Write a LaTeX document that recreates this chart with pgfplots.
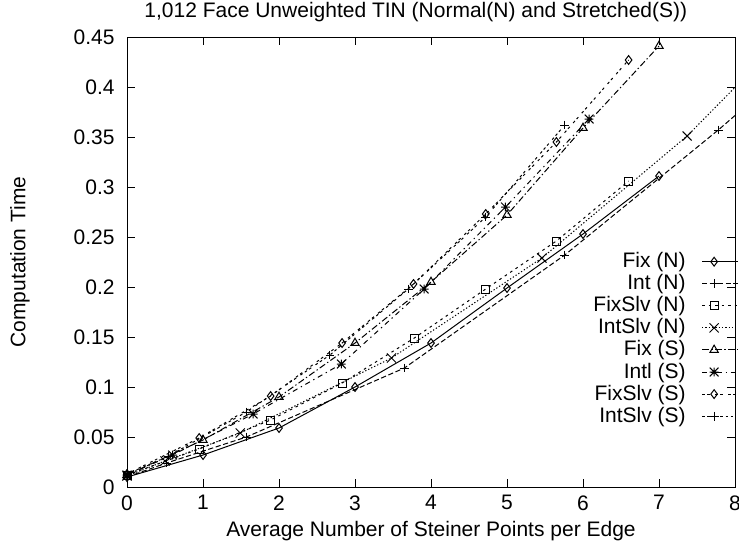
\documentclass[border=0pt]{standalone}
\usepackage{fontspec}
\setmainfont{Liberation Sans}
\usepackage{pgfplots}
\pgfplotsset{compat=1.18}
\pgfdeclareplotmark{gstar}{%
 \pgfpathmoveto{\pgfqpoint{-\pgfplotmarksize}{0pt}}\pgfpathlineto{\pgfqpoint{\pgfplotmarksize}{0pt}}%
 \pgfpathmoveto{\pgfqpoint{0pt}{-\pgfplotmarksize}}\pgfpathlineto{\pgfqpoint{0pt}{\pgfplotmarksize}}%
 \pgfpathmoveto{\pgfqpoint{-\pgfplotmarksize}{-\pgfplotmarksize}}\pgfpathlineto{\pgfqpoint{\pgfplotmarksize}{\pgfplotmarksize}}%
 \pgfpathmoveto{\pgfqpoint{-\pgfplotmarksize}{\pgfplotmarksize}}\pgfpathlineto{\pgfqpoint{\pgfplotmarksize}{-\pgfplotmarksize}}%
 \pgfusepathqstroke}
\begin{document}
\fontsize{10.5}{12.6}\selectfont
\begin{tikzpicture}
\begin{axis}[
 scale only axis, width=304pt, height=225pt,
 xmin=0, xmax=8, ymin=0, ymax=0.45,
 xtick={0,1,2,3,4,5,6,7,8},
 ytick={0,0.05,0.1,0.15,0.2,0.25,0.3,0.35,0.4,0.45},
 tick align=inside, tick pos=both, major tick length=4pt,
 axis line style={line width=0.5pt},
 every tick/.style={black, line width=0.5pt},
 /pgf/number format/assume math mode=true,
 scaled y ticks=false,
 yticklabel style={/pgf/number format/fixed, /pgf/number format/precision=2, xshift=-2.5pt},
 xticklabel style={yshift=-3pt, inner sep=1pt},
 tick label style={font=\fontsize{10.5}{12.6}\selectfont},
 title={1,012 Face Unweighted TIN (Normal(N) and Stretched(S))},
 every axis title/.style={at={(axis description cs:0.475,1.0556)}, anchor=center, inner sep=0pt},
 xlabel={Average Number of Steiner Points per Edge},
 every axis x label/.style={at={(axis description cs:0.5,-0.097)}, anchor=center, inner sep=0pt},
 ylabel={Computation Time},
 every axis y label/.style={at={(axis description cs:-0.176,0.5)}, rotate=90, anchor=center, inner sep=0pt},
 every axis plot/.append style={line width=0.5pt, black, mark size=2.2pt, mark options={solid}},
 legend plot pos=right, legend cell align=right,
 legend style={draw=none, fill=none, at={(axis description cs:1.0066,0.522)}, anchor=north east, inner sep=0pt, row sep=1.85pt, column sep=8pt, nodes={inner sep=0pt}, font=\fontsize{10.5}{12.6}\selectfont},
 legend image code/.code={\draw[mark repeat=2,mark phase=2,#1] plot coordinates {(0pt,0pt) (6pt,0pt) (18pt,0pt)};},
]
% Fix (N)
\addplot[solid, mark=diamond] coordinates {(0,0.010) (1,0.032) (2,0.059) (3,0.100) (4,0.144) (5,0.199) (6,0.253) (7,0.311)};
\addlegendentry{Fix (N)}
% Int (N)
\addplot[dash pattern=on 2.6pt off 1.3pt, mark=+] coordinates {(0,0.010) (0.52,0.024) (1.57,0.050) (3.65,0.119) (5.76,0.232) (7.78,0.357) (9.8,0.49)};
\addlegendentry{Int (N)}
% FixSlv (N)
\addplot[dash pattern=on 1.3pt off 1.95pt, mark=square, mark size=2pt] coordinates {(0,0.012) (0.95,0.038) (1.89,0.067) (2.83,0.104) (3.78,0.149) (4.72,0.198) (5.65,0.246) (6.6,0.306)};
\addlegendentry{FixSlv (N)}
% IntSlv (N)
\addplot[dash pattern=on 0.65pt off 1pt, mark=x, mark size=3.2pt] coordinates {(0,0.011) (0.5,0.026) (1.49,0.054) (3.48,0.129) (5.46,0.229) (7.37,0.351) (9.3,0.50)};
\addlegendentry{IntSlv (N)}
% Fix (S)
\addplot[dash pattern=on 3.25pt off 1.3pt on 0.65pt off 1.3pt, mark=triangle, mark size=2.4pt] coordinates {(0,0.012) (1,0.047) (2,0.090) (3,0.144) (4,0.205) (5,0.272) (6,0.359) (7,0.441)};
\addlegendentry{Fix (S)}
% Intl (S)
\addplot[dash pattern=on 2.6pt off 1.95pt on 0.65pt off 1.95pt, mark=gstar] coordinates {(0,0.012) (0.6,0.032) (1.66,0.073) (2.82,0.123) (3.91,0.198) (4.98,0.280) (6.08,0.368)};
\addlegendentry{Intl (S)}
% FixSlv (S)
\addplot[dash pattern=on 1.3pt off 1.3pt on 1.3pt off 2.6pt, mark=diamond] coordinates {(0,0.013) (0.95,0.049) (1.89,0.091) (2.83,0.144) (3.77,0.203) (4.72,0.273) (5.65,0.345) (6.6,0.427)};
\addlegendentry{FixSlv (S)}
% IntSlv (S)
\addplot[dash pattern=on 1.3pt off 1.3pt on 1.3pt off 1.3pt on 1.3pt off 2.6pt, mark=+] coordinates {(0,0.013) (0.55,0.031) (1.57,0.075) (2.67,0.132) (3.70,0.198) (4.72,0.270) (5.76,0.362)};
\addlegendentry{IntSlv (S)}
\end{axis}
\pgfresetboundingbox
\path[use as bounding box] ([shift={(-63.5pt,-28pt)}]current axis.south west) rectangle ([shift={(2pt,18.5pt)}]current axis.north east);
\end{tikzpicture}
\end{document}
